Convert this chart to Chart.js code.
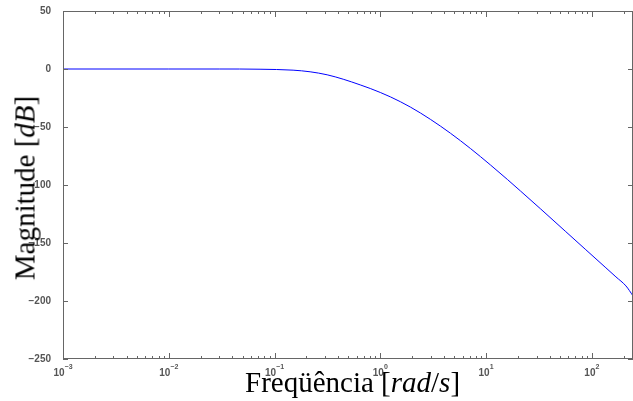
<!DOCTYPE html>
<html>
<head>
<meta charset="utf-8">
<script src="https://cdn.jsdelivr.net/npm/chart.js@4.4.1/dist/chart.umd.min.js"></script>
<style>
  body { margin: 0; background: #fff; }
  #wrap { position: relative; width: 633px; height: 401px; }
  .ttl { position: absolute; font-family: "Liberation Serif", "DejaVu Serif", serif; font-size: 29px; color: #000; white-space: nowrap; line-height: 1; }
  #xtitle { left: 245px; top: 368px; }
  #ytitle { left: 25px; top: 188px; transform: translate(-50%, -50%) rotate(-90deg); }
</style>
</head>
<body>
<div id="wrap">
  <canvas id="bode" width="633" height="401"></canvas>
  <div class="ttl" id="xtitle">Freqüência [<i>rad</i>/<i>s</i>]</div>
  <div class="ttl" id="ytitle">Magnitude [<i>dB</i>]</div>
</div>
<script>
// frequency in rad/s
const freq = [0.001, 0.01, 0.03, 0.0729, 0.1498, 0.217, 0.3145, 0.446, 0.6462, 0.8039, 1.244, 1.924, 2.978, 4.609, 7.132, 11.03, 15.99, 21.23, 32.86, 56.7, 87.73, 135.8, 168.9, 210.1, 244.7];
// magnitude in dB
const magDb = [0, 0, 0, -0.2, -1, -2.4, -5, -8.8, -13.7, -16.8, -24, -32.8, -43.4, -55.4, -68.6, -82.8, -95.4, -105.3, -120.7, -140.2, -155.8, -171.4, -179.2, -187, -195.5];

const yTicks = [50, 0, -50, -100, -150, -200, -250];
const xDecades = [-3, -2, -1, 0, 1, 2];
const xMin = 0.001;
const xMax = 245;

const axisGray = "#666666";
const labelGray = "#555555";

// box, inward ticks and 10^n labels like the matlab figure
const axisBox = {
  id: "axisBox",
  afterDraw(chart) {
    const { ctx, chartArea: a, scales: { x, y } } = chart;
    ctx.save();
    ctx.strokeStyle = axisGray;
    ctx.lineWidth = 1;
    ctx.strokeRect(a.left + 0.5, a.top + 0.5, a.right - a.left - 1, a.bottom - a.top - 1);

    ctx.beginPath();
    for (const e of xDecades) {
      for (let m = 1; m <= 9; m++) {
        const v = m * Math.pow(10, e);
        if (v > xMax) break;
        const px = Math.round(x.getPixelForValue(v)) + 0.5;
        const len = m === 1 ? 6 : 3;
        ctx.moveTo(px, a.bottom);
        ctx.lineTo(px, a.bottom - len);
        ctx.moveTo(px, a.top);
        ctx.lineTo(px, a.top + len);
      }
    }
    for (const t of yTicks) {
      const py = Math.round(y.getPixelForValue(t)) + 0.5;
      ctx.moveTo(a.left, py);
      ctx.lineTo(a.left + 5, py);
      ctx.moveTo(a.right, py);
      ctx.lineTo(a.right - 5, py);
    }
    ctx.stroke();

    ctx.fillStyle = labelGray;
    ctx.textBaseline = "alphabetic";
    ctx.textAlign = "left";
    for (const e of xDecades) {
      const px = x.getPixelForValue(Math.pow(10, e));
      ctx.font = "bold 10px 'Liberation Sans', Arial, sans-serif";
      const bw = ctx.measureText("10").width;
      ctx.font = "bold 7px 'Liberation Sans', Arial, sans-serif";
      const exp = String(e).replace("-", "\u2212");
      const ew = ctx.measureText(exp).width;
      const startX = px - (bw + ew) / 2;
      ctx.font = "bold 10px 'Liberation Sans', Arial, sans-serif";
      ctx.fillText("10", startX, 376);
      ctx.font = "bold 7px 'Liberation Sans', Arial, sans-serif";
      ctx.fillText(exp, startX + bw, 369);
    }
    ctx.restore();
  }
};

const points = freq.map((f, i) => ({ x: f, y: magDb[i] }));

new Chart(document.getElementById("bode"), {
  type: "line",
  data: {
    datasets: [{
      data: points,
      borderColor: "#0000ff",
      borderWidth: 1,
      pointRadius: 0,
      fill: false,
      cubicInterpolationMode: "monotone"
    }]
  },
  options: {
    responsive: false,
    animation: false,
    layout: { padding: { top: 11, right: 0, bottom: 0, left: 0 } },
    plugins: { legend: { display: false }, tooltip: { enabled: false } },
    scales: {
      x: {
        type: "logarithmic",
        min: xMin,
        max: xMax,
        grid: { display: false },
        border: { display: false },
        ticks: { display: false },
        afterFit: (s) => { s.height = 42; }
      },
      y: {
        min: -250,
        max: 50,
        grid: { display: false },
        border: { display: false },
        afterBuildTicks: (s) => { s.ticks = yTicks.map(v => ({ value: v })); },
        ticks: {
          color: labelGray,
          padding: 4,
          font: { family: "'Liberation Sans', Arial, sans-serif", size: 10, weight: "bold" },
          callback: (v) => String(v).replace("-", "\u2212")
        },
        afterFit: (s) => { s.width = 63; }
      }
    }
  },
  plugins: [axisBox]
});
</script>
</body>
</html>
